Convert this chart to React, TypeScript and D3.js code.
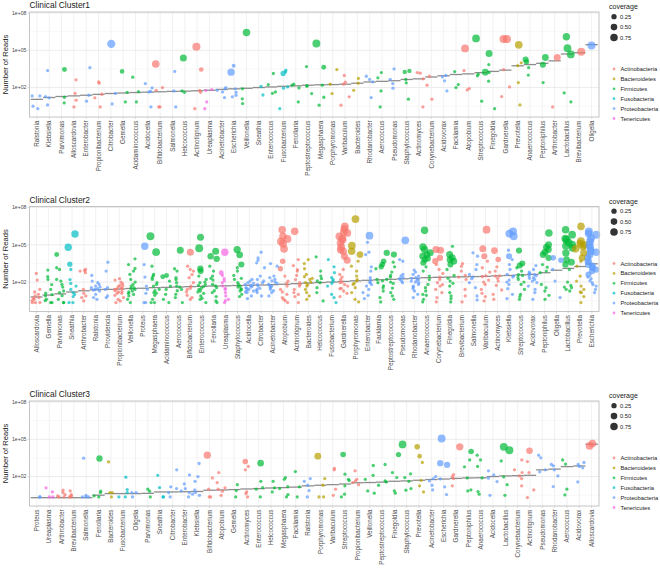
import React from "react";
import * as d3 from "d3";

type Pt = number | [number, number];

const phylumNames = ["Actinobacteria", "Bacteroidetes", "Firmicutes", "Fusobacteria", "Proteobacteria", "Tenericutes"];
const phylumColors = ["#F8766D", "#B79F00", "#00BA38", "#00BFC4", "#619CFF", "#F564E3"];
const coverageTicks = [0.25, 0.5, 0.75];
const yTickExps = [2, 5, 8];
const yMinorExps = [0.5, 3.5, 6.5];

const actinobacteria = ["Alloscardovia", "Propionibacterium", "Bifidobacterium", "Actinotignum", "Varibaculum", "Actinomyces", "Corynebacterium", "Atopobium", "Gardnerella", "Arthrobacter", "Brevibacterium"];
const bacteroidetes = ["Porphyromonas", "Bacteroides", "Prevotella"];
const fusobacteria = ["Sneathia", "Fusobacterium"];
const proteobacteria = ["Ralstonia", "Klebsiella", "Enterobacter", "Citrobacter", "Acidocella", "Salmonella", "Acinetobacter", "Escherichia", "Rhodanobacter", "Pseudomonas", "Acidovorax", "Oligella", "Providencia", "Proteus"];
const tenericutes = ["Ureaplasma"];

// ---------- Cluster 1 ----------
const c1Genera = ["Ralstonia", "Klebsiella", "Parvimonas", "Alloscardovia", "Enterobacter", "Propionibacterium", "Citrobacter", "Gemella", "Acidaminococcus", "Acidocella", "Bifidobacterium", "Salmonella", "Helcococcus", "Actinotignum", "Ureaplasma", "Acinetobacter", "Escherichia", "Veillonella", "Sneathia", "Enterococcus", "Fusobacterium", "Fenollaria", "Peptostreptococcus", "Megasphaera", "Porphyromonas", "Varibaculum", "Bacteroides", "Rhodanobacter", "Aerococcus", "Pseudomonas", "Staphylococcus", "Actinomyces", "Corynebacterium", "Acidovorax", "Facklamia", "Atopobium", "Streptococcus", "Finegoldia", "Gardnerella", "Prevotella", "Anaerococcus", "Peptoniphilus", "Arthrobacter", "Lactobacillus", "Brevibacterium", "Oligella"];
const c1Median = [1.05, 1.2, 1.28, 1.33, 1.38, 1.45, 1.52, 1.56, 1.6, 1.63, 1.66, 1.69, 1.71, 1.74, 1.78, 1.85, 1.9, 1.94, 2.0, 2.05, 2.1, 2.14, 2.19, 2.22, 2.24, 2.27, 2.35, 2.45, 2.5, 2.55, 2.65, 2.7, 2.85, 2.95, 3.05, 3.1, 3.2, 3.3, 3.4, 3.75, 3.85, 3.95, 4.15, 4.7, 4.8, 5.45];
const c1Reads: Pt[][] = [
  [1.33, 1.33, 0.5, 0.3],
  [3.37, 1.27, 1.17, 0.6],
  [[3.45, 0.2], 1.22, 0.76],
  [2.62, 1.54, 0.98, 0.44],
  [3.6, 1.38, 0.9],
  [2.46, 2.35, 1.46, 1.17, 0.44],
  [[5.52, 0.95], 1.54, 0.68],
  [[3.3, 0.15], 1.62, 0.84],
  [2.83, 1.68, 0.84],
  [2.32, 1.97, 1.7, 1.65, 0.44],
  [[3.9, 0.75], 2.0, 1.78, 0.44, 0.44],
  [3.3, 1.73, 0.44],
  [[4.37, 0.6], 1.73, 1.62],
  [[5.28, 0.9], [3.45, 0.15], 1.78, 1.62, 0.3],
  [1.84, 1.78, 0.84, 0.3],
  [2.0, 1.9, 1.78, 1.65, 1.19],
  [[3.75, 0.08], [3.24, 0.7], 1.9, 1.62, 1.38, 1.25],
  [[6.43, 0.75], 1.9, 1.09, 0.71],
  [2.1, 1.4],
  [3.13, 2.24, 1.65, 1.54],
  [3.4, 3.26, [3.13, 0.25], 2.05, 1.95, 0.3],
  [2.27, 2.19, 1.97, 0.84],
  [3.69, 2.13, 2.13, 1.52],
  [[5.55, 0.85], [3.64, 0.2], 2.19, 1.22, 0.58],
  [3.45, 2.27, 1.52],
  [2.97, 2.43, 2.27, 1.25, 0.58],
  [2.73, 2.35, 1.78],
  [2.91, 2.65, 2.46, 1.19],
  [3.21, 2.78, 1.73, 0.44],
  [3.5, 2.65, 2.32, 1.95],
  [[3.34, 0.12], [3.26, 0.12], 2.65, 2.38, 1.06],
  [3.21, 3.16, 2.7, 0.44],
  [2.91, 2.19, 1.06],
  [2.97, 2.86, 2.54, 1.73],
  [3.29, 2.24, 2.0],
  [[5.15, 0.8], 3.37, 1.92, 1.81],
  [[5.95, 0.8], [3.24, 0.55], 3.08, 2.94, 0.9],
  [[4.74, 0.6], 3.85, 3.21, 2.51, 0.3],
  [[5.9, 0.9], [5.9, 0.9], 3.45, 2.05, 1.27],
  [[5.44, 0.8], 3.99, 3.77, 2.4, 0.6],
  [[4.26, 0.4], [4.07, 0.25], 3.61, 3.0],
  [[4.42, 0.55], [3.83, 0.4], 2.4],
  [[4.42, 0.6], 0.44],
  [[6.09, 0.7], [5.17, 0.8], [4.66, 0.8], 1.57, 0.84],
  [[4.88, 0.85]],
  [[5.39, 0.9]],
];

// ---------- Cluster 2 ----------
const c2Genera = ["Alloscardovia", "Gemella", "Parvimonas", "Sneathia", "Arthrobacter", "Ralstonia", "Providencia", "Propionibacterium", "Veillonella", "Proteus", "Megasphaera", "Acidaminococcus", "Aerococcus", "Bifidobacterium", "Enterococcus", "Fenollaria", "Ureaplasma", "Staphylococcus", "Acidocella", "Citrobacter", "Acinetobacter", "Atopobium", "Actinotignum", "Bacteroides", "Helcococcus", "Fusobacterium", "Gardnerella", "Porphyromonas", "Enterobacter", "Facklamia", "Peptostreptococcus", "Pseudomonas", "Rhodanobacter", "Anaerococcus", "Corynebacterium", "Finegoldia", "Brevibacterium", "Salmonella", "Varibaculum", "Actinomyces", "Klebsiella", "Streptococcus", "Acidovorax", "Peptoniphilus", "Oligella", "Lactobacillus", "Prevotella", "Escherichia"];
const c2Median = [0.8, 0.95, 1.05, 1.2, 1.3, 1.38, 1.41, 1.44, 1.48, 1.5, 1.55, 1.57, 1.6, 1.63, 1.65, 1.68, 1.7, 1.72, 1.74, 1.76, 1.79, 1.82, 1.87, 1.92, 1.96, 2.0, 2.05, 2.1, 2.14, 2.18, 2.22, 2.26, 2.3, 2.35, 2.38, 2.4, 2.42, 2.44, 2.46, 2.5, 2.53, 2.58, 2.62, 2.75, 2.95, 3.1, 3.25, 3.47];
const c2Reads: Pt[][] = [
  [2.69, 2.16, 1.41, 1.01, 0.88, 0.75, 0.61, 0.35, 0.35, 0.35, 0.5, 1.2, 0.7],
  [2.96, 2.43, 2.21, 1.41, 0.99, 0.88, 0.61, 0.35, 0.35, 1.8, 1.1, 0.5],
  [[4.21, 0.2], 3.15, 3.01, 2.21, 2.08, 1.81, 1.28, 1.15, 0.61, 0.35, 0.35, 1.6, 0.9],
  [[5.87, 0.7], [4.8, 0.7], [3.44, 0.25], 3.01, 1.89, 1.68, 1.41, 1.15, 0.83, 0.35, 0.35, 2.2, 1.0],
  [3.01, 2.93, 2.88, 2.75, 1.41, 0.88, 0.75, 0.48, 1.1],
  [2.53, 2.08, 1.95, 1.68, 1.55, 1.47, 1.41, 1.28, 1.01, 0.75, 0.61, 1.8, 1.35, 1.6],
  [3.6, 2.88, 1.55, 1.41, 0.88, 0.75],
  [2.27, 2.16, 2.0, 1.87, 1.73, 1.63, 1.52, 1.41, 1.31, 1.2, 1.09, 0.93, 0.75, 0.48, 0.35, 1.5, 1.25, 1.7, 0.6, 1.45, 1.1],
  [3.87, 3.41, 3.09, 2.88, 2.61, 2.21, 1.81, 1.68, 1.55, 1.41, 1.28, 1.09, 0.88, 0.61, 0.35, 1.5, 2.0, 1.2, 1.0],
  [[4.88, 0.7], 3.41, 2.4, 1.68, 1.41, 1.09, 0.35, 0.35],
  [[5.68, 0.85], [4.4, 0.8], 3.28, 2.61, 2.35, 2.21, 1.95, 1.68, 1.41, 1.15, 0.93, 0.61, 0.35, 0.35, 1.8, 2.5, 1.3, 1.1],
  [[2.53, 0.2], [2.43, 0.2], 2.08, 1.68, 1.41, 1.01, 0.61, 0.35],
  [[4.56, 0.6], 3.07, 2.88, 2.35, 1.95, 1.68, 1.41, 1.01, 0.75, 0.35, 1.6, 2.2, 1.3],
  [[4.4, 0.6], 3.28, 3.01, 2.88, 2.35, 1.95, 1.68, 1.41, 0.93, 0.75, 0.61, 1.2, 2.6, 1.5],
  [[5.6, 0.6], [4.72, 0.85], [3.07, 0.45], [2.88, 0.4], 2.48, 2.21, 1.95, 1.73, 1.63, 1.41, 1.28, 1.09, 0.88, 0.61, 0.35, 1.5, 2.0, 1.8, 0.7, 1.2],
  [[4.48, 0.6], [4.08, 0.45], [3.87, 0.45], 3.28, 2.88, 2.48, 2.16, 1.81, 1.55, 1.15, 0.83, 0.48, 0.35, 1.7, 2.3, 1.3],
  [[4.4, 0.7], [2.75, 0.2], 2.53, 2.27, 1.95, 1.68, 1.41, 1.15, 0.88, 0.61, 0.35, 2.1, 1.5, 0.5],
  [[4.61, 0.7], [4.19, 0.55], [3.41, 0.4], 3.15, 2.88, 2.53, 2.21, 1.95, 1.68, 1.47, 1.28, 1.01, 0.83, 1.6, 2.3, 1.8, 1.4],
  [2.21, 2.08, 1.95, 1.81, 1.68, 1.55, 1.41, 1.28, 1.15, 0.88, 0.67, 1.9, 1.6, 1.75, 1.35, 1.5, 1.2],
  [4.4, 3.95, 3.76, 3.55, 3.15, 2.48, 2.21, 1.95, 1.68, 1.41, 1.15, 0.88, 1.8, 1.5, 2.1, 1.3],
  [3.49, 3.28, 2.48, 2.35, 2.21, 2.0, 1.81, 1.68, 1.55, 1.41, 1.15, 0.88, 1.9, 1.75, 2.1, 1.6, 1.3],
  [[6.21, 0.75], [5.68, 0.75], [5.47, 0.8], [5.28, 0.8], [5.09, 0.8], [4.67, 0.8], [3.68, 0.3], [3.07, 0.25], 2.48, 2.08, 1.68, 1.41, 1.01, 0.75, 0.61, 0.35, 1.9, 1.2, 0.5],
  [[6.08, 0.75], 3.81, 3.33, 2.88, 2.53, 1.95, 1.68, 1.41, 1.15, 0.83, 0.35, 2.2, 1.8, 3.0, 1.0],
  [3.81, 3.49, 3.07, 2.61, 2.43, 2.21, 1.95, 1.68, 1.41, 1.15, 0.88, 0.61, 2.0, 2.3, 1.8],
  [4.03, 2.88, 2.48, 2.27, 1.95, 1.55, 1.15, 0.48, 2.1],
  [3.81, 3.23, 2.75, 2.35, 2.08, 1.68, 1.01, 0.75, 0.35, 2.2, 1.9],
  [[6.48, 0.8], [6.27, 0.8], [5.95, 0.8], [5.68, 0.8], [5.41, 0.75], [5.15, 0.75], [4.83, 0.75], [4.48, 0.7], [4.08, 0.6], [3.76, 0.6], 3.01, 2.61, 2.21, 1.95, 1.68, 1.47, 1.28, 1.09, 0.83, 2.0, 1.8, 2.4, 1.5, [5.5, 0.75], [6.0, 0.75], [4.6, 0.7]],
  [[7.07, 0.8], [4.93, 0.75], [4.48, 0.7], [4.21, 0.55], 3.68, 3.28, 2.88, 2.48, 2.08, 1.81, 1.55, 1.15, 0.61, 0.4, 2.2, 1.9],
  [[5.73, 0.8], 5.2, 4.4, 4.21, 3.23, 2.88, 2.35, 2.16, 1.95, 1.68, 1.41, 1.15, 0.93, 0.67, 2.0, 1.8],
  [[3.68, 0.3], [3.41, 0.3], [3.23, 0.25], 3.07, 2.21, 1.95, 1.55, 1.28, 0.75, 0.4, 2.1, 1.7],
  [[4.35, 0.45], [4.21, 0.4], 3.6, 3.23, 2.8, 2.53, 2.21, 1.89, 1.52, 1.15, 0.88, 0.61, 2.4, 2.0],
  [[5.36, 0.8], 3.81, 3.68, 2.61, 2.35, 2.21, 2.08, 1.95, 2.3, 2.5],
  [2.96, 2.8, 2.61, 2.48, 2.35, 2.21, 2.08, 1.95, 1.81, 1.68, 1.47, 1.28, 1.01, 0.75, 2.3, 2.15, 2.0, 1.6],
  [[6.16, 0.75], [4.83, 0.7], [4.61, 0.7], [4.35, 0.6], [4.08, 0.55], [3.81, 0.45], [3.55, 0.4], 3.23, 2.88, 2.48, 1.81, 1.55, 1.28, 0.93, 0.61, 0.4, 2.2, 1.0, [3.9, 0.45], [4.2, 0.55]],
  [[4.61, 0.6], [4.56, 0.6], [3.95, 0.45], [3.68, 0.4], 3.41, 3.01, 2.69, 2.21, 1.95, 1.68, 1.41, 1.15, 0.75, 0.4, 2.4, 1.8],
  [4.88, [4.21, 0.6], [3.95, 0.6], [3.68, 0.55], [3.41, 0.4], 3.01, 2.53, 2.08, 1.68, 1.15, 0.88, 0.67, 0.4, 2.3, 1.9, [3.8, 0.55]],
  [3.49, 3.28, 2.88, 2.53, 2.21, 1.41, 0.88, 0.4, 2.4],
  [4.35, 4.08, 3.41, 3.01, 2.61, 2.27, 1.95, 1.55, 0.88, 0.56, 2.4],
  [[6.21, 0.8], [4.67, 0.6], [4.08, 0.4], 3.68, 3.15, 2.8, 2.43, 2.16, 1.81, 1.41, 1.09, 0.83, 0.48, 2.5, 2.0],
  [[4.53, 0.55], [3.81, 0.3], 3.23, 2.88, 2.48, 2.08, 1.73, 1.36, 1.01, 0.61, 2.5, 2.3],
  [[6.08, 0.85], [5.68, 0.85], [5.9, 0.8], 4.56, [4.08, 0.4], 3.81, 3.41, 3.01, 2.61, 2.16, 1.81, 1.47, 1.01, 0.67, 2.5, 2.4, 2.0],
  [[4.53, 0.4], [3.49, 0.4], [3.33, 0.4], 3.15, 2.88, 2.53, 2.21, 1.81, 1.41, 1.01, 0.83, 0.61, 2.6, 2.4, 2.0],
  [3.33, 3.01, 2.8, 2.61, 2.48, 2.35, 2.21, 2.08, 1.95, 1.68, 1.41, 1.15, 0.61, 2.6, 2.5, 2.7, 2.3],
  [[5.95, 0.75], [5.01, 0.6], [4.61, 0.6], [4.4, 0.6], [4.21, 0.55], [3.95, 0.45], 3.41, 2.88, 1.81, 1.55, 1.28, 0.93, 0.61, 2.75, 3.2, [4.8, 0.6]],
  [[3.95, 0.3], [3.76, 0.3], 3.01, 2.08, 0.75],
  [[6.21, 0.75], [5.81, 0.8], [5.41, 0.8], [5.2, 0.8], [5.01, 0.8], [4.75, 0.75], [4.35, 0.7], [3.81, 0.55], [3.41, 0.45], 3.01, 1.73, 1.55, 1.41, 1.28, [5.5, 0.8], [4.9, 0.75], [3.6, 0.55], 2.0, 1.6],
  [[6.48, 0.75], [5.28, 0.85], [5.09, 0.8], [4.88, 0.8], [4.67, 0.75], [4.35, 0.6], [3.95, 0.55], 3.68, 3.28, 2.48, 2.08, 1.68, 1.41, 1.15, 0.83, 0.35, [5.0, 0.8], 1.2],
  [[6.08, 0.85], [5.81, 0.85], [5.55, 0.85], [5.28, 0.85], [5.01, 0.8], [4.75, 0.8], [4.48, 0.8], [4.21, 0.75], [3.95, 0.7], [3.68, 0.7], [3.41, 0.6], [3.15, 0.55], [2.88, 0.45], [2.61, 0.4], 2.27, 1.95, 1.68, 1.15, [3.3, 0.55], [3.0, 0.45], 2.4, 2.1, 1.8, 1.4, [5.9, 0.8], [4.4, 0.75]],
];

// ---------- Cluster 3 ----------
const c3Genera = ["Proteus", "Ureaplasma", "Arthrobacter", "Brevibacterium", "Salmonella", "Fenollaria", "Bacteroides", "Fusobacterium", "Oligella", "Parvimonas", "Sneathia", "Citrobacter", "Enterobacter", "Klebsiella", "Bifidobacterium", "Atopobium", "Gemella", "Actinomyces", "Enterococcus", "Helcococcus", "Megasphaera", "Facklamia", "Ralstonia", "Porphyromonas", "Varibaculum", "Streptococcus", "Propionibacterium", "Veillonella", "Peptostreptococcus", "Finegoldia", "Staphylococcus", "Prevotella", "Acinetobacter", "Escherichia", "Gardnerella", "Peptoniphilus", "Anaerococcus", "Acidocella", "Lactobacillus", "Corynebacterium", "Actinotignum", "Pseudomonas", "Rhodanobacter", "Aerococcus", "Acidovorax", "Alloscardovia"];
const c3Median = [0.3, 0.3, 0.3, 0.3, 0.3, 0.5, 0.63, 0.63, 0.63, 0.65, 0.76, 0.76, 0.78, 0.8, 0.9, 0.92, 0.95, 1.0, 1.03, 1.08, 1.11, 1.15, 1.25, 1.3, 1.35, 1.4, 1.5, 1.52, 1.55, 1.62, 1.65, 1.7, 1.76, 1.8, 1.85, 1.89, 1.9, 2.0, 2.05, 2.07, 2.1, 2.54, 2.6, 2.8, 2.85, 4.6];
const c3Reads: Pt[][] = [
  [0.36, 0.36],
  [1.09, 0.76, 0.36, 0.36],
  [0.9, 0.71, 0.55, 0.44, 0.36, 0.36],
  [0.84, 0.55, 0.44, 0.36, 0.36],
  [3.48, 0.49, 0.36, 0.36, 0.36],
  [[3.45, 0.45], 0.82, 0.71, 0.44, 0.36],
  [3.18, 0.71, 0.71, 0.36],
  [1.95, 0.95, 0.71, 0.36, 0.36],
  [0.71, 0.71, 0.36],
  [0.98, 0.82, 0.36],
  [2.1, 1.11, 0.36, 0.36],
  [2.54, 1.17, 1.03, 0.71, 0.36],
  [2.13, 1.41, 1.03, 0.84, 0.71, 0.36],
  [3.05, 2.0, 1.62, 0.92, 0.71, 0.58, 0.49],
  [[3.72, 0.65], 1.89, 0.98, 0.36, 0.36],
  [2.32, 1.52, 1.09, 0.98, 0.82, 0.49],
  [1.35, 0.87, 0.36],
  [[3.21, 0.3], 2.81, 2.54, 0.76, 0.63, 0.36],
  [[3.08, 0.5], 1.62, 1.11, 0.98, 0.36],
  [1.62, 1.09, 0.76],
  [1.92, 1.78, 1.19, 1.03, 0.55, 0.36],
  [2.4, 1.17, 0.36],
  [1.84, 1.62, 1.3, 0.87, 0.36],
  [[3.64, 0.55], 1.84, 1.3, 0.36, 0.36],
  [2.65, 2.54, 0.98, 0.49],
  [[3.77, 0.3], 2.19, 1.78, 1.68, 1.25, 0.58, 0.36],
  [2.46, 1.78, 1.65, 1.52, 1.35],
  [2.89, 2.1, 1.78, 0.84, 0.66],
  [2.97, 1.65, 1.57, 1.3],
  [[3.77, 0.25], 2.32, 1.92, 0.84, 0.66],
  [[4.58, 0.8], 2.22, 1.92, 1.62, 1.03, 0.9],
  [[4.39, 0.3], [3.64, 0.15], 3.13, 1.7, 1.25, 0.76],
  [2.0, 1.84, 1.65, 1.3, 0.92],
  [[5.06, 0.85], [3.08, 0.45], [2.94, 0.45], 1.81, 1.17, 0.55],
  [[4.39, 0.7], 2.16, 2.0, 1.84, 1.25],
  [[4.02, 0.3], 3.34, 2.78, 1.89, 0.92, 0.84],
  [3.72, 3.34, 2.81, 1.89, 0.79, 0.58],
  [2.46, 2.13, 1.87, 1.6, 0.49],
  [[4.39, 0.85], [4.12, 0.85], 3.26, 1.97, 1.35, 0.49],
  [3.34, 2.54, 2.32, 2.05, 1.84, 1.25],
  [[4.07, 0.5], 3.21, 2.32, 0.92, 0.31],
  [3.72, 3.51, 2.54, 2.38],
  [2.97, 2.86, 2.54, 2.05, 1.19],
  [3.34, 3.0, 0.98, 0.52],
  [3.13, 2.97, 2.81, 2.7, 1.57],
  [[4.66, 0.75], [4.47, 0.8]],
];

const panels = [
  { title: "Clinical Cluster1", genera: c1Genera, median: c1Median, reads: c1Reads, top: 12 },
  { title: "Clinical Cluster2", genera: c2Genera, median: c2Median, reads: c2Reads, top: 206.5 },
  { title: "Clinical Cluster3", genera: c3Genera, median: c3Median, reads: c3Reads, top: 401 },
];

function phylumOf(g: string): number {
  if (actinobacteria.includes(g)) return 0;
  if (bacteroidetes.includes(g)) return 1;
  if (fusobacteria.includes(g)) return 3;
  if (proteobacteria.includes(g)) return 4;
  if (tenericutes.includes(g)) return 5;
  return 2;
}

function jitter(i: number, j: number, p: number): number {
  const s = Math.sin(i * 127.1 + j * 311.7 + p * 74.7) * 43758.5453;
  return (s - Math.floor(s)) * 2 - 1;
}

const W = 660;
const H = 572;
const LEFT = 29.5;
const RIGHT = 599;
const PH = 105;
const FONT = "Liberation Sans, Arial, Helvetica, sans-serif";

const sizeScale = d3.scaleSqrt().domain([0, 1]).range([1.1, 4.2]);
const DEFAULT_COV = 0.03;

function Panel({ p, pi }: { p: typeof panels[number]; pi: number }) {
  const top = p.top;
  const bottom = top + PH;
  const x = d3.scalePoint<string>().domain(p.genera).range([LEFT, RIGHT]).padding(0.6);
  const y = d3.scaleLog().domain([Math.pow(10, -0.37), Math.pow(10, 8.08)]).range([bottom, top]);
  const step = x.step();
  const pts: { cx: number; cy: number; r: number; color: string }[] = [];
  p.reads.forEach((list, i) => {
    const g = p.genera[i];
    const col = phylumColors[phylumOf(g)];
    list.forEach((pt, j) => {
      const v = Array.isArray(pt) ? pt[0] : pt;
      const c = Array.isArray(pt) ? pt[1] : DEFAULT_COV;
      pts.push({
        cx: (x(g) as number) + jitter(i, j, pi) * 0.38 * step,
        cy: y(Math.pow(10, v)),
        r: sizeScale(c),
        color: col,
      });
    });
  });
  pts.sort((a, b) => b.r - a.r);
  const legX = 614;
  return (
    <g>
      <text x={LEFT} y={top - 4} fontSize={8.4} fill="#1a1a1a" fontFamily={FONT}>{p.title}</text>
      <rect x={LEFT} y={top} width={RIGHT - LEFT} height={PH} fill="#fff" />
      {yMinorExps.map((e) => (
        <line key={"mn" + e} x1={LEFT} x2={RIGHT} y1={y(Math.pow(10, e))} y2={y(Math.pow(10, e))} stroke="#f0f0f0" strokeWidth={0.5} />
      ))}
      {yTickExps.map((e) => (
        <line key={"mj" + e} x1={LEFT} x2={RIGHT} y1={y(Math.pow(10, e))} y2={y(Math.pow(10, e))} stroke="#e3e3e3" strokeWidth={0.7} />
      ))}
      {p.genera.map((g) => (
        <line key={"vg" + g} x1={x(g)} x2={x(g)} y1={top} y2={bottom} stroke="#e8e8e8" strokeWidth={0.6} />
      ))}
      {p.genera.map((g, i) => (
        <line key={"md" + g} x1={(x(g) as number) - step / 2} x2={(x(g) as number) + step / 2}
          y1={y(Math.pow(10, p.median[i]))} y2={y(Math.pow(10, p.median[i]))}
          stroke="#7a7a7a" strokeWidth={1.3} strokeOpacity={0.85} />
      ))}
      {pts.map((d, k) => (
        <circle key={k} cx={d.cx} cy={d.cy} r={d.r} fill={d.color} fillOpacity={0.7} />
      ))}
      <rect x={LEFT} y={top} width={RIGHT - LEFT} height={PH} fill="none" stroke="#c4c4c4" strokeWidth={1} />
      {yTickExps.map((e) => (
        <g key={"yt" + e}>
          <line x1={LEFT - 2} x2={LEFT} y1={y(Math.pow(10, e))} y2={y(Math.pow(10, e))} stroke="#c4c4c4" strokeWidth={0.6} />
          <text x={LEFT - 3} y={y(Math.pow(10, e))} dy="0.35em" textAnchor="end" fontSize={5.2} fill="#4d4d4d" fontFamily={FONT}>
            {"1e+0" + e}
          </text>
        </g>
      ))}
      <text transform={`translate(7.8, ${top + PH / 2}) rotate(-90)`} textAnchor="middle" fontSize={7.6} fill="#1a1a1a" fontFamily={FONT}>
        Number of Reads
      </text>
      {p.genera.map((g) => (
        <g key={"xt" + g}>
          <line x1={x(g)} x2={x(g)} y1={bottom} y2={bottom + 2} stroke="#c4c4c4" strokeWidth={0.6} />
          <text transform={`translate(${x(g)}, ${bottom + 3.5}) rotate(-90)`} textAnchor="end" dy="0.35em" fontSize={6.3} fill="#4d4d4d" fontFamily={FONT}>
            {g}
          </text>
        </g>
      ))}
      <text x={609} y={top - 3} fontSize={7} fill="#1a1a1a" fontFamily={FONT}>coverage</text>
      {coverageTicks.map((c, k) => (
        <g key={"cv" + c}>
          <circle cx={legX} cy={top + 4.7 + k * 10.4} r={sizeScale(c)} fill="#333" />
          <text x={620} y={top + 4.7 + k * 10.4} dy="0.35em" fontSize={5.8} fill="#1a1a1a" fontFamily={FONT}>{c.toFixed(2)}</text>
        </g>
      ))}
      {phylumNames.map((n, k) => (
        <g key={"ph" + n}>
          <circle cx={legX} cy={top + 57 + k * 9.9} r={1.4} fill={phylumColors[k]} fillOpacity={0.7} />
          <text x={620.5} y={top + 57 + k * 9.9} dy="0.35em" fontSize={5.8} fill="#1a1a1a" fontFamily={FONT}>{n}</text>
        </g>
      ))}
    </g>
  );
}

export default function App() {
  return (
    <svg width={W} height={H} viewBox={`0 0 ${W} ${H}`} style={{ position: "absolute", left: 0, top: 0, background: "#fff" }}>
      <rect width={W} height={H} fill="#fff" />
      {panels.map((p, i) => (
        <Panel key={p.title} p={p} pi={i} />
      ))}
    </svg>
  );
}
